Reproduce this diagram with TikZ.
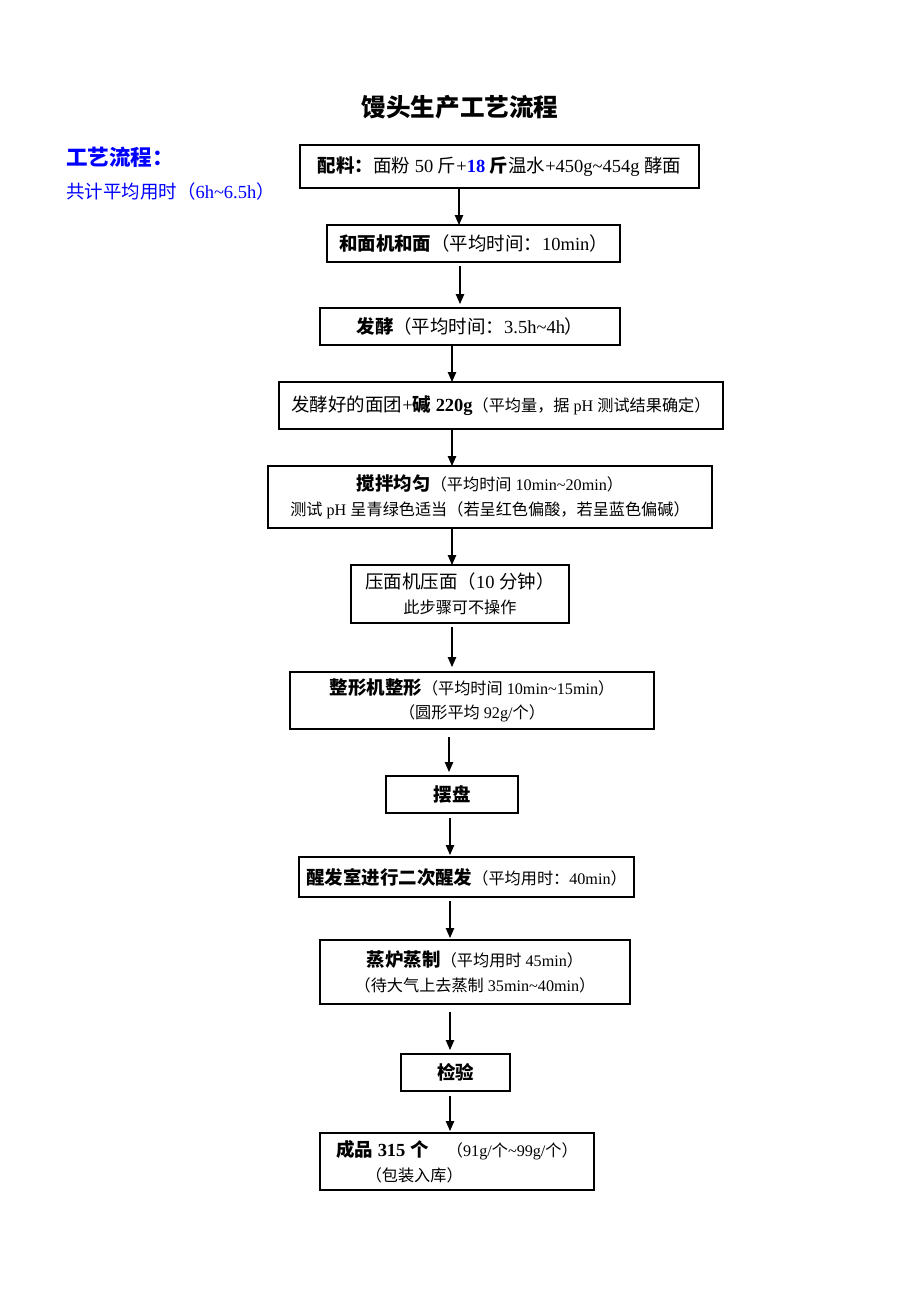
\documentclass[tikz,border=0pt]{standalone}
\usepackage{fontspec}
\setmainfont{Liberation Serif}
\newfontfamily\zhfont{Noto Sans CJK SC}
\usetikzlibrary{arrows.meta}
\newcommand\zh[1]{{\zhfont #1}}
\newcommand\xiaosi{\fontsize{12pt}{16pt}\selectfont}
\newcommand\wuhao{\fontsize{10.5pt}{14pt}\selectfont}
\newcommand\tld{\textasciitilde}
\tikzset{
  stepbox/.style={draw, line width=0.9pt, inner sep=0pt, outer sep=0pt, align=center, font=\xiaosi},
  sz/.style 2 args={minimum width=#1*0.65pt, minimum height=#2*0.65pt},
  arr/.style={-{Triangle[length=6.5pt,width=5.5pt]}, line width=0.7pt}
}
\begin{document}
\begin{tikzpicture}[x=0.65pt,y=0.65pt,yscale=-1,xscale=1]
\useasboundingbox (0,0) rectangle (920,1302);

% Text Node
\node[font=\fontsize{16pt}{20pt}\selectfont] (title) at (460,107) {\textbf{\zh{馒头生产工艺流程}}};
% Text Node
\node[anchor=west, inner sep=0pt, text=blue, font=\fontsize{14pt}{18pt}\selectfont] (lbl) at (66,157) {\textbf{\zh{工艺流程：}}};
% Text Node
\node[anchor=west, inner sep=0pt, text=blue, font=\xiaosi] (tot) at (66,191) {\zh{共计平均用时（}6h\tld6.5h\zh{）}};

%Shape: Rectangle
\node[stepbox, sz={399}{43}] (b1) at (499.5,166.5)
  {\textbf{\zh{配料：}}\zh{面粉} 50 \zh{斤}+\textbf{\textcolor{blue}{18} \zh{斤}}\zh{温水}+450g\tld454g \zh{酵面}};
\node[stepbox, sz={293}{37}] (b2) at (473.5,243.5)
  {\textbf{\zh{和面机和面}}\zh{（平均时间：}10min\zh{）}};
\node[stepbox, sz={300}{37}] (b3) at (470,326.5)
  {\textbf{\zh{发酵}}\zh{（平均时间：}3.5h\tld4h\zh{）}};
\node[stepbox, sz={444}{47}] (b4) at (501,405.5)
  {\zh{发酵好的面团}+\textbf{\zh{碱} 220g}{\wuhao\zh{（平均量，据} pH \zh{测试结果确定）}}};
\node[stepbox, sz={444}{62}] (b5) at (490,497)
  {\textbf{\zh{搅拌均匀}}{\wuhao\zh{（平均时间} 10min\tld20min\zh{）}}\\
   {\wuhao\zh{测试} pH \zh{呈青绿色适当（若呈红色偏酸，若呈蓝色偏碱）}}};
\node[stepbox, sz={218}{58}] (b6) at (460,594)
  {\zh{压面机压面（}10 \zh{分钟）}\\ {\wuhao\zh{此步骤可不操作}}};
\node[stepbox, sz={364}{57}] (b7) at (472,700.5)
  {\textbf{\zh{整形机整形}}{\wuhao\zh{（平均时间} 10min\tld15min\zh{）}}\\
   {\wuhao\zh{（圆形平均} 92g/\zh{个）}}};
\node[stepbox, sz={132}{37}] (b8) at (452,794.5) {\textbf{\zh{摆盘}}};
\node[stepbox, sz={335}{40}] (b9) at (466.5,877)
  {\textbf{\zh{醒发室进行二次醒发}}{\wuhao\zh{（平均用时：}40min\zh{）}}};
\node[stepbox, sz={310}{64}] (b10) at (475,972)
  {\textbf{\zh{蒸炉蒸制}}{\wuhao\zh{（平均用时} 45min\zh{）}}\\
   {\wuhao\zh{（待大气上去蒸制} 35min\tld40min\zh{）}}};
\node[stepbox, sz={109}{37}] (b11) at (455.5,1072.5) {\textbf{\zh{检验}}};
\node[stepbox, sz={274}{57}, align=left] (b12) at (457,1161.5)
  {\textbf{\zh{成品} 315 \zh{个}}\quad{\wuhao\zh{（}91g/\zh{个}\tld99g/\zh{个）}}\\
   \hspace*{1.6em}{\wuhao\zh{（包装入库）}}};

%Straight Lines
\foreach \a/\b/\x/\s/\e in {b1/b2/459/0/0, b2/b3/460/4/4, b3/b4/452/0/0, b4/b5/452/0/0,
    b5/b6/452/0/0, b6/b7/452/4/5, b7/b8/449/8/4, b8/b9/450/5/2, b9/b10/450/4/2,
    b10/b11/450/8/4, b11/b12/450/5/2}{
  \coordinate (ax) at (\x,0);
  \draw[arr, shorten <=\s*0.65pt, shorten >=\e*0.65pt] (\a.south -| ax) -- (\b.north -| ax);
}

\end{tikzpicture}
\end{document}
